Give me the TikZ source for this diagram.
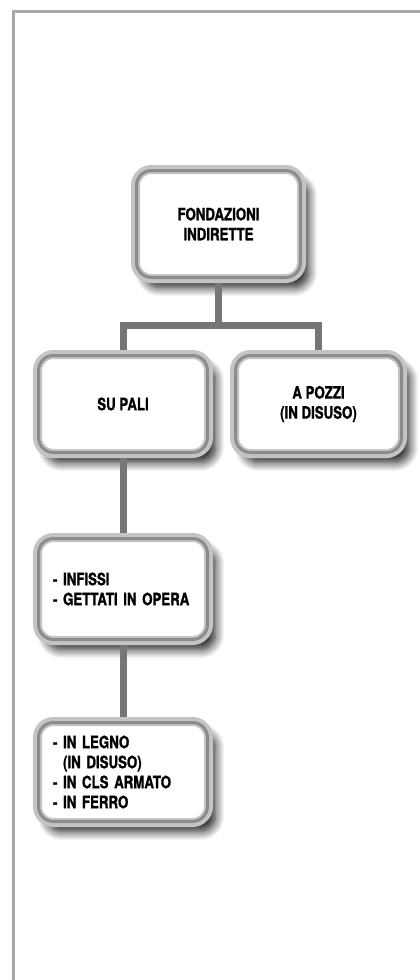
\documentclass[tikz,border=0pt]{standalone}
\usepackage{fontspec}
\setmainfont{TeX Gyre Heros}[FakeStretch=0.78, BoldFeatures={FakeBold=1.2}]
\usetikzlibrary{shadows.blur}
\definecolor{rimlight}{RGB}{196,196,196}
\definecolor{rimdark}{RGB}{140,140,140}
\definecolor{linkgray}{RGB}{118,118,118}
\definecolor{framegray}{RGB}{168,168,168}

\begin{document}
\begin{tikzpicture}[x=1pt,y=-1pt,
	box/.style={rounded corners=15pt, minimum height=97pt, minimum width=169pt,
		inner xsep=14.5pt, fill=white,
		font=\fontsize{17}{20}\selectfont\bfseries,
		blur shadow={shadow xshift=8pt, shadow yshift=-10pt, shadow blur steps=12,
			shadow blur radius=9pt, shadow opacity=90},
		preaction={draw=rimlight, line width=11pt},
		postaction={draw=rimlight, line width=7pt},
		postaction={draw=rimdark, line width=3pt}},
	midbox/.style={box, align=center},
	listbox/.style={box, align=left, text width=140pt},
	link/.style={draw=linkgray, line width=7pt, shorten <=5.5pt, shorten >=5.5pt}]
	\useasboundingbox (0,0) rectangle (420,980);
	% frame
	\draw[framegray, line width=3pt] (13,980) -- (13,11) -- (420,11);
	% boxes
	\node[midbox, minimum width=164pt, minimum height=107pt] (fond) at (218.5,224) {FONDAZIONI\\INDIRETTE};
	\node[midbox] (pali) at (123,404) {SU PALI};
	\node[midbox, minimum width=166pt] (pozzi) at (318.5,404) {A POZZI\\(IN DISUSO)};
	\node[listbox, minimum height=101pt] (tipo) at (123,589) {- INFISSI\\- GETTATI IN OPERA};
	\node[listbox, minimum height=99pt] (mater) at (123,772) {- IN LEGNO\\\hphantom{-~}(IN DISUSO)\\- IN CLS ARMATO\\- IN FERRO};
	% connectors
	\coordinate (split) at (218.5,325);
	\draw[link, shorten >=0pt] (fond.south) -- (split);
	\draw[link] (pali.north) |- (split) -| (pozzi.north);
	\draw[link] (pali.south) -- (tipo.north);
	\draw[link] (tipo.south) -- (mater.north);
\end{tikzpicture}
\end{document}
